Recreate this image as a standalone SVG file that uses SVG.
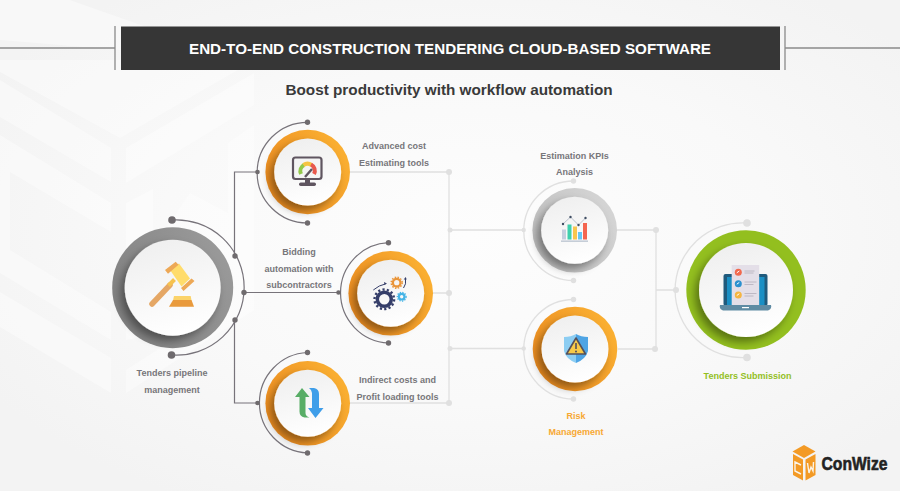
<svg xmlns="http://www.w3.org/2000/svg" width="900" height="491" viewBox="0 0 900 491">
<style>
text{font-family:"Liberation Sans",Arial,sans-serif;font-weight:700;text-anchor:middle}
.lb{font-size:9px;fill:#77767a}
.dk{fill:none;stroke:#77737a;stroke-width:1.2}
.lt{fill:none;stroke:#e0e0e0;stroke-width:1.3}
.dd{fill:#6f6b6e}
.ld{fill:#e0e0e0}
.disc{fill:url(#d);filter:url(#s)}
.wm{fill:#fff;opacity:.4}
</style>
<defs>
<radialGradient id="bg" cx="52%" cy="48%" r="62%"><stop offset="0" stop-color="#fdfdfd"/><stop offset=".55" stop-color="#f9f9f9"/><stop offset="1" stop-color="#f3f3f3"/></radialGradient>
<linearGradient id="d" x1=".3" y1="0" x2=".6" y2="1"><stop offset="0" stop-color="#efefef"/><stop offset="1" stop-color="#fff"/></linearGradient>
<linearGradient id="o" x1="0" y1=".8" x2="1" y2=".2"><stop offset="0" stop-color="#ec8a1f"/><stop offset="1" stop-color="#fbb233"/></linearGradient>
<linearGradient id="g" x1="0" y1=".8" x2="1" y2=".2"><stop offset="0" stop-color="#7f7f7f"/><stop offset="1" stop-color="#9b9b9b"/></linearGradient>
<linearGradient id="g2" x1="0" y1=".8" x2="1" y2=".2"><stop offset="0" stop-color="#bdbdbd"/><stop offset="1" stop-color="#d6d6d6"/></linearGradient>
<filter id="s" x="-30%" y="-30%" width="160%" height="160%"><feDropShadow dx="-4" dy="5" stdDeviation="4" flood-color="#000" flood-opacity=".4"/></filter>
</defs>
<rect width="900" height="491" fill="url(#bg)"/>
<g id="background">
<polygon class="wm" points="0,60 255,60 120,138 0,72"/>
<polygon class="wm" points="0,80 111,148 111,182 0,117"/>
<polygon class="wm" points="0,135 111,203 111,232 10,172 10,250 111,312 111,340 0,273"/>
<polygon class="wm" points="0,292 111,358 111,393 0,327"/>
<polygon class="wm" points="126,148 254,73 254,105 126,183"/>
<polygon class="wm" points="126,203 153,189 153,335 126,340"/>
<polygon class="wm" points="165,230 190,193 228,213 228,143 254,125 254,310 126,393 126,370 165,345"/>
<polygon class="wm" points="0,0 70,0 240,60 0,40" opacity=".3"/>
</g>
<g id="header">
<path d="M0 48H115M115 26V70M785 26V70M785 48H900" fill="none" stroke="#8a8a8a" stroke-width="1.3"/>
<rect x="121" y="26.500" width="659" height="43.500" fill="#363636"/>
<text x="450" y="54" font-size="15.200" fill="#fff">END-TO-END CONSTRUCTION TENDERING CLOUD-BASED SOFTWARE</text>
<text x="449" y="95" font-size="15.300" fill="#3a3a3a">Boost productivity with workflow automation</text>
</g>
<g id="connectors">
<path class="lt" d="M350 172H449M433 293H449M350 403H449M449 172V403M449 230H524M449 348.500H524M617 230H656M618 349H656M656 230V349M656 290H676"/>
<path class="lt" d="M573.500 181A49.500 49.500 0 0 0 573.500 280.500M573.500 299.500A49.700 49.700 0 0 0 573.500 399M747 223A67.400 67.400 0 1 0 747 357.500"/>
<g class="ld"><circle cx="449" cy="172" r="3"/><circle cx="450" cy="230" r="2.500"/><circle cx="449" cy="293" r="3"/><circle cx="450" cy="348.500" r="2.500"/><circle cx="449" cy="403" r="3"/><circle cx="523.700" cy="230" r="2.200"/><circle cx="523.700" cy="348.500" r="2.200"/><circle cx="656" cy="230" r="3"/><circle cx="655" cy="349" r="3"/><circle cx="676" cy="290" r="3"/><circle cx="573.500" cy="181" r="2.700"/><circle cx="573.500" cy="280.500" r="2.700"/><circle cx="573.500" cy="299.500" r="2.700"/><circle cx="573.500" cy="399" r="2.700"/><circle cx="747" cy="223" r="3.800"/><circle cx="747" cy="357.500" r="3.800"/></g>
<path class="dk" d="M257.500 172H234.500V256M234.500 320V403H257.500M244 292.500H338.500"/>
<path class="dk" d="M172 220A67.650 67.650 0 1 1 172 355M307.500 122.300A50.300 50.300 0 0 0 307.500 223M388.500 242.700A50.200 50.200 0 0 0 388.500 343M307.500 352.500A50.300 50.300 0 0 0 307.500 453"/>
<g class="dd"><circle cx="172" cy="220" r="3.800"/><circle cx="171.500" cy="355" r="3.800"/><circle cx="235" cy="256" r="2.700"/><circle cx="235" cy="320" r="2.700"/><circle cx="244" cy="292.500" r="2.700"/><circle cx="257.500" cy="172" r="2.300"/><circle cx="307.500" cy="122.300" r="2.700"/><circle cx="307.500" cy="223" r="2.700"/><circle cx="338.500" cy="292.500" r="2.300"/><circle cx="388.500" cy="242.700" r="2.700"/><circle cx="388.500" cy="343" r="2.700"/><circle cx="257.500" cy="403" r="2.300"/><circle cx="307.500" cy="352.500" r="2.700"/><circle cx="307.500" cy="453" r="2.700"/></g>
</g>
<g id="node-tenders-pipeline">
<circle cx="172.700" cy="287.700" r="60.500" fill="url(#g)"/>
<circle cx="172.700" cy="287.700" r="48" class="disc"/>
<path d="M152 304L170 285" stroke="#e5a765" stroke-width="5.500" stroke-linecap="round"/>
<path d="M168.500 285.500l6-6" stroke="#f6c24f" stroke-width="4"/>
<path d="M170 270l9-6.500 11 15-8.500 8z" fill="#ffdc6b"/>
<path d="M165 270l10.700-8.300 2.800 3-10.500 9zM181 288l10.500-9.500 3 2.500-11 10z" fill="#eda856"/>
<path d="M174 296h16.700l.8 4.500h-18.500z" fill="#fbd36a"/><path d="M173 300h18.500l2.500 6.700h-25z" fill="#e99a3c"/>
<text class="lb" x="172" y="376">Tenders pipeline</text><text class="lb" x="172" y="393">management</text>
</g>
<g id="node-cost-estimating">
<circle cx="307.700" cy="172" r="42.300" fill="url(#o)"/>
<circle cx="307.700" cy="172" r="33.500" class="disc"/>
<rect x="293" y="157.500" width="28.500" height="21.500" rx="2.500" fill="#f4f4f4" stroke="#5f5560" stroke-width="2.200"/>
<path d="M301 174a7 7 0 0 1 3-9" fill="none" stroke="#93c84a" stroke-width="4"/><path d="M303.500 165a7 7 0 0 1 8 0" fill="none" stroke="#f5c443" stroke-width="4"/><path d="M311 164.500a7 7 0 0 1 3 9.500" fill="none" stroke="#e8584c" stroke-width="4"/>
<path d="M305 177l7-8" stroke="#5f5560" stroke-width="2.400"/><rect x="305" y="179" width="5" height="4" fill="#5f5560"/><rect x="299" y="182.500" width="17" height="3.500" rx="1.700" fill="#5f5560"/>
<text class="lb" x="394" y="149">Advanced cost</text><text class="lb" x="394" y="166">Estimating tools</text>
</g>
<g id="node-bidding">
<circle cx="390.700" cy="293.300" r="42.300" fill="url(#o)"/>
<circle cx="390.700" cy="293.300" r="33.500" class="disc"/>
<circle cx="384.300" cy="299.300" r="7" fill="none" stroke="#353e69" stroke-width="3.500"/><circle cx="384.300" cy="299.300" r="9.800" fill="none" stroke="#353e69" stroke-width="2.400" stroke-dasharray="2.200 2.200"/>
<circle cx="396.700" cy="282.700" r="3.800" fill="none" stroke="#e9953a" stroke-width="2.300"/><circle cx="396.700" cy="282.700" r="5.500" fill="none" stroke="#e9953a" stroke-width="1.500" stroke-dasharray="1.500 1.400"/>
<circle cx="401.700" cy="296.700" r="2.800" fill="none" stroke="#45b4e6" stroke-width="2.200"/><circle cx="401.700" cy="296.700" r="4.400" fill="none" stroke="#45b4e6" stroke-width="1.300" stroke-dasharray="1.300 1.300"/>
<path d="M373.300 290q6-5 12-6M403.500 288q3-4 2-9" fill="none" stroke="#353e69" stroke-width="1"/><path d="M387 283.500l-3-1.500 .5 3zM405.700 277l-2 2.500h3z" fill="#353e69"/>
<text class="lb" x="299" y="255">Bidding</text><text class="lb" x="299" y="271.500">automation with</text><text class="lb" x="299" y="288">subcontractors</text>
</g>
<g id="node-indirect-costs">
<circle cx="307.700" cy="403.300" r="42.300" fill="url(#o)"/>
<circle cx="307.700" cy="403.300" r="33.500" class="disc"/>
<path d="M302 388l7.500 9h-4v16q0 3 4 4.500h-5q-5-1-5-6v-14.500h-4.500z" fill="#58ad66"/>
<path d="M309 388h5q5 1 5 6v14h4.500l-8 10-7.500-10h4v-15q0-3-3-5z" fill="#3f9ee9"/>
<text class="lb" x="397.500" y="383">Indirect costs and</text><text class="lb" x="397.500" y="399.500">Profit loading tools</text>
</g>
<g id="node-kpis">
<circle cx="574.700" cy="230.300" r="42.300" fill="url(#g2)"/>
<circle cx="574.700" cy="230.300" r="33.500" class="disc"/>
<rect x="562" y="229.500" width="4" height="10" fill="#c5cede"/><rect x="567.500" y="224.500" width="4" height="15" fill="#3fd0ae"/><rect x="573" y="226.500" width="4" height="13" fill="#f8c64f"/><rect x="578" y="232" width="4" height="7.500" fill="#66c6f5"/><rect x="583" y="223" width="4" height="16.500" fill="#f4654f"/>
<rect x="561" y="240.500" width="27" height="1.300" fill="#b9c2cf"/>
<path d="M563 224l7.500-7 8 8 7-7" fill="none" stroke="#aab3c2" stroke-width=".8"/>
<g fill="#3f4d63"><circle cx="563" cy="224" r="1.200"/><circle cx="570.500" cy="217" r="1.200"/><circle cx="578.500" cy="225" r="1.200"/><circle cx="585.500" cy="218" r="1.200"/></g>
<text class="lb" x="574.500" y="159">Estimation KPIs</text><text class="lb" x="574.500" y="175">Analysis</text>
</g>
<g id="node-risk">
<circle cx="575" cy="349" r="42.300" fill="url(#o)"/>
<circle cx="575" cy="349" r="33.500" class="disc"/>
<path d="M576 334q-5 3-12 3v14q2 8 12 12z" fill="#8ccdf2"/><path d="M576 334q5 3 12 3v14q-2 8-12 12z" fill="#4ea4e4"/>
<path d="M576 338l9.500 16h-19z" fill="#f7c948" stroke="#55505a" stroke-width="1.600" stroke-linejoin="round"/>
<rect x="575.200" y="343" width="1.600" height="6" fill="#55505a"/><circle cx="576" cy="351.500" r="1" fill="#55505a"/>
<text fill="#f7a833" font-size="9" x="576" y="419">Risk</text><text fill="#f7a833" font-size="9" x="576" y="435">Management</text>
</g>
<g id="node-submission">
<circle cx="746" cy="290" r="59.700" fill="#93bf1f"/>
<circle cx="746" cy="290" r="47" class="disc"/>
<rect x="723.500" y="274" width="44" height="32" rx="2" fill="#1f5a7c"/><rect x="727" y="277" width="37.500" height="28" fill="#1a8fc4"/>
<path d="M720 305h51q1 4-3 5.500h-45q-4-1.500-3-5.500z" fill="#5f8ba3"/><rect x="742" y="307" width="7" height="1.200" fill="#fff"/>
<rect x="731.700" y="265" width="27.500" height="40" fill="#e4dfe8"/>
<circle cx="738.300" cy="272.300" r="3.500" fill="#f1694e"/><circle cx="738.300" cy="283.700" r="3.500" fill="#2a90cf"/><circle cx="738.300" cy="295" r="3.500" fill="#f5b541"/>
<path d="M736.800 272.800l2.500-1.800M736.800 284.200l2.500-1.800M736.800 295.500l2.500-1.800" stroke="#fff" stroke-width="1"/>
<path d="M744.500 271h10M744.500 273h9M744.500 282h12M744.500 284.500h9M744.500 293.500h12M744.500 296h9" stroke="#b3adba" stroke-width=".8"/>
<text fill="#93bf1f" font-size="9" x="747.500" y="379">Tenders Submission</text>
</g>
<g id="logo">
<path d="M804 445l11.500 6.500-11.500 6.500-11.500-6.500z" fill="#f39a25"/>
<path d="M793 454l10 5.500v21l-10-5.500zM815.500 454l-10 5.500v21l10-5.500z" fill="#f39a25"/>
<path d="M801 465l-6-3v9l6 3M807.500 463l1.500 10 2-6 2 4 .5-9" fill="none" stroke="#fbf3e6" stroke-width="1.400"/>
<text x="854.500" y="469.500" font-size="18.500" fill="#222" stroke="#222" stroke-width=".6" textLength="66" lengthAdjust="spacingAndGlyphs">ConWize</text>
</g>
</svg>
